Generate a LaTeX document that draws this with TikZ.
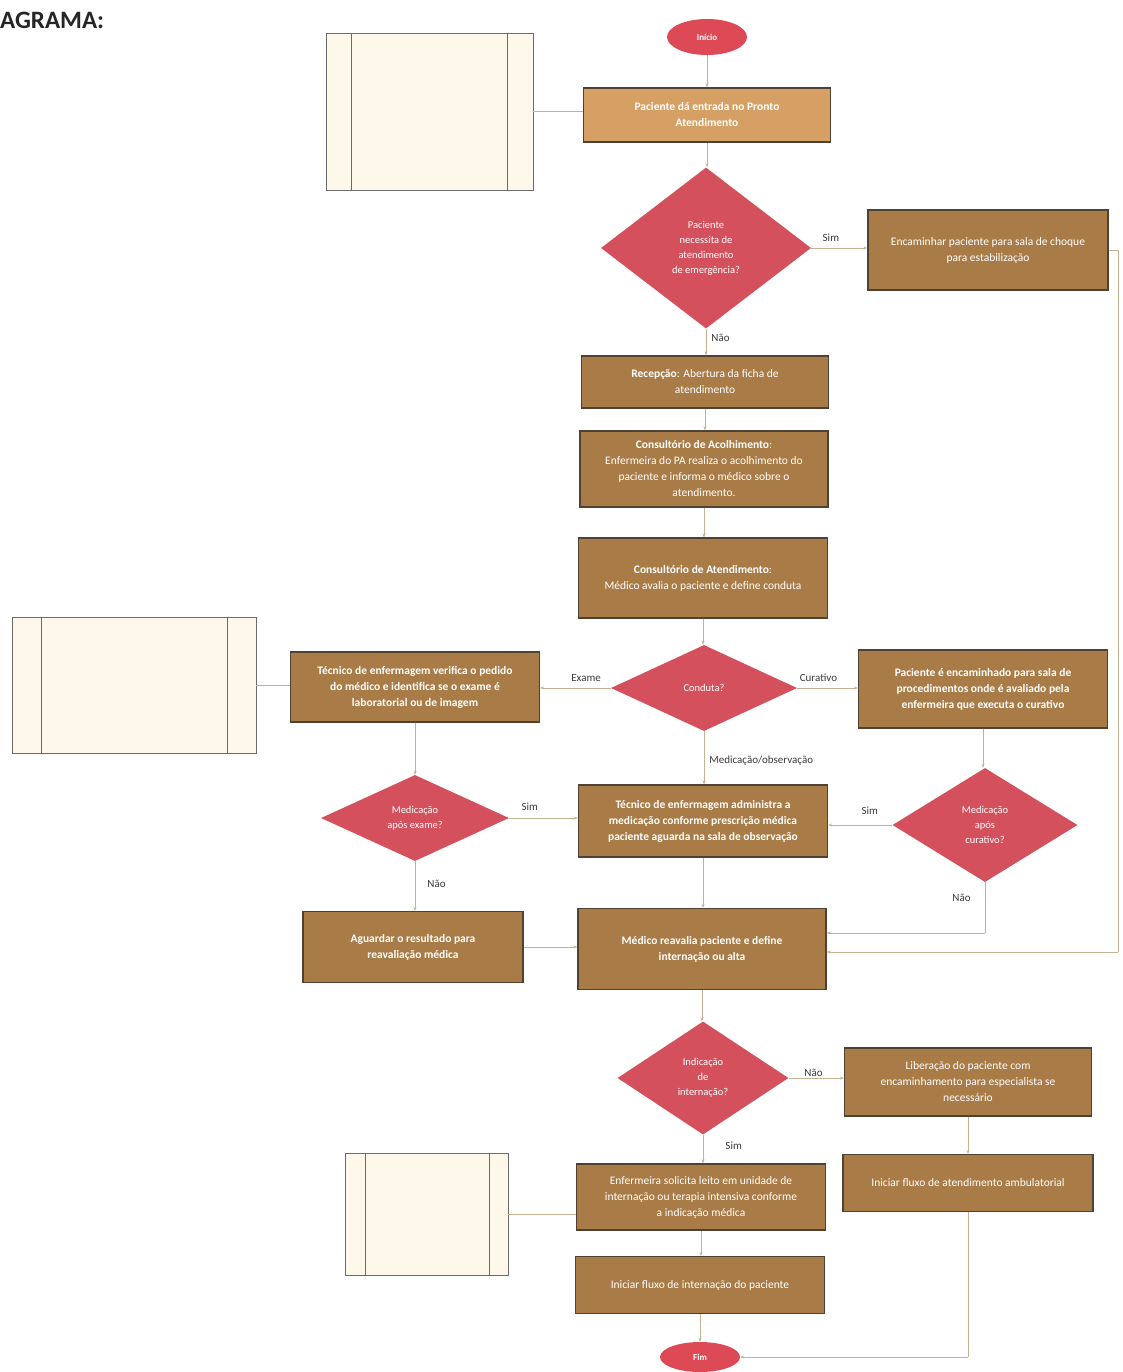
\documentclass[tikz,border=0pt]{standalone}
\usepackage{fontspec}
\setmainfont{Carlito}
\usetikzlibrary{shapes.geometric,arrows.meta,calc}

\definecolor{boxbrown}{HTML}{A97B47}
\definecolor{boxtan}{HTML}{D6A064}
\definecolor{boxedge}{HTML}{4F4234}
\definecolor{decred}{HTML}{D4505C}
\definecolor{termred}{HTML}{DD4A56}
\definecolor{docfill}{HTML}{FDF8E9}
\definecolor{docedge}{HTML}{6A6A6A}
\definecolor{wire}{HTML}{C4B292}
\definecolor{lbltext}{HTML}{3A3A3A}

\tikzset{
  proc/.style={rectangle, fill=boxbrown, draw=boxedge, line width=1.2pt,
    text=white, font=\fontsize{11.5}{16}\selectfont, align=center, inner sep=2pt},
  procb/.style={proc, font=\fontsize{11.5}{16}\selectfont\bfseries},
  proclight/.style={proc, fill=boxtan, font=\fontsize{11.5}{16}\selectfont\bfseries},
  dec/.style={diamond, aspect=2, fill=decred, draw=none, inner sep=0pt,
    text=white, font=\fontsize{10.5}{15}\selectfont, align=center},
  term/.style={ellipse, fill=termred, draw=none, text=white,
    font=\fontsize{9}{10}\selectfont\bfseries, inner sep=0pt},
  docbox/.style={rectangle, fill=docfill, draw=docedge, line width=0.9pt},
  docline/.style={draw=docedge, line width=0.9pt},
  conn/.style={draw=wire, line width=0.9pt},
  arr/.style={conn, -{Stealth[length=4pt,width=3pt]}},
  lbl/.style={text=lbltext, font=\fontsize{11}{12}\selectfont, inner sep=0pt}
}

\begin{document}
\begin{tikzpicture}[x=1pt,y=-1pt]
  % page frame
  \path[fill=white] (0,0) rectangle (1123,1372);
  \useasboundingbox (0,0) rectangle (1123,1372);

  % heading
  \node[anchor=west, inner sep=0pt, text=black!85, font=\fontsize{25}{28}\selectfont\bfseries] (title) at (0,20) {AGRAMA:};

  % side documents
  \node[docbox, minimum width=207pt, minimum height=157pt] (doc1) at (429.5,111.5) {};
  \draw[docline] ($(doc1.north west)+(26,0)$) -- ($(doc1.south west)+(26,0)$);
  \draw[docline] ($(doc1.north east)+(-26,0)$) -- ($(doc1.south east)+(-26,0)$);

  \node[docbox, minimum width=244pt, minimum height=136pt] (doc2) at (134,685) {};
  \draw[docline] ($(doc2.north west)+(30,0)$) -- ($(doc2.south west)+(30,0)$);
  \draw[docline] ($(doc2.north east)+(-29,0)$) -- ($(doc2.south east)+(-29,0)$);

  \node[docbox, minimum width=163pt, minimum height=122pt] (doc3) at (426.5,1214) {};
  \draw[docline] ($(doc3.north west)+(21,0)$) -- ($(doc3.south west)+(21,0)$);
  \draw[docline] ($(doc3.north east)+(-19,0)$) -- ($(doc3.south east)+(-19,0)$);

  % main column
  \node[term, minimum width=80pt, minimum height=36pt] (ini) at (707,37) {Início};
  \node[proclight, minimum width=247pt, minimum height=54pt] (ent) at (707,115)
    {Paciente dá entrada no Pronto\\Atendimento};
  \node[dec, minimum width=210pt, minimum height=161pt] (emg) at (706,248)
    {Paciente\\necessita de\\atendimento\\de emergência?};
  \node[proc, minimum width=240pt, minimum height=80pt] (enc) at (988,250)
    {Encaminhar paciente para sala de choque\\para estabilização};
  \node[proc, minimum width=247pt, minimum height=52pt] (rec) at (705,382)
    {\textbf{Recepção}: Abertura da ficha de\\atendimento};
  \node[proc, minimum width=248pt, minimum height=76pt] (aco) at (704,469)
    {\textbf{Consultório de Acolhimento}:\\Enfermeira do PA realiza o acolhimento do\\paciente e informa o médico sobre o\\atendimento.};
  \node[proc, minimum width=249pt, minimum height=80pt] (ate) at (703,578)
    {\textbf{Consultório de Atendimento}:\\Médico avalia o paciente e define conduta};
  \node[dec, minimum width=186pt, minimum height=86pt] (cond) at (704,688) {Conduta?};

  % exam branch
  \node[procb, minimum width=249pt, minimum height=70pt] (tve) at (415,687)
    {Técnico de enfermagem verifica o pedido\\do médico e identifica se o exame é\\laboratorial ou de imagem};
  \node[dec, minimum width=188pt, minimum height=86pt] (mex) at (415,818)
    {Medicação\\após exame?};
  \node[procb, minimum width=220pt, minimum height=71pt] (agu) at (413,947)
    {Aguardar o resultado para\\reavaliação médica};

  % dressing branch
  \node[procb, minimum width=249pt, minimum height=78pt] (cur) at (983,689)
    {Paciente é encaminhado para sala de\\procedimentos onde é avaliado pela\\enfermeira que executa o curativo};
  \node[dec, minimum width=185pt, minimum height=114pt] (mcu) at (985,825)
    {Medicação\\após\\curativo?};

  % medication / reassessment
  \node[procb, minimum width=249pt, minimum height=72pt] (adm) at (703,821)
    {Técnico de enfermagem administra a\\medicação conforme prescrição médica\\paciente aguarda na sala de observação};
  \node[procb, minimum width=248pt, minimum height=81pt] (med) at (702,949)
    {Médico reavalia paciente e define\\internação ou alta};
  \node[dec, minimum width=171pt, minimum height=113pt] (ind) at (703,1078)
    {Indicação\\de\\internação?};

  % discharge branch
  \node[proc, minimum width=247pt, minimum height=68pt] (lib) at (968,1082)
    {Liberação do paciente com\\encaminhamento para especialista se\\necessário};
  \node[proc, minimum width=250pt, minimum height=57pt] (amb) at (968,1183)
    {Iniciar fluxo de atendimento ambulatorial};

  % admission branch
  \node[proc, minimum width=249pt, minimum height=66pt] (enf) at (701,1197)
    {Enfermeira solicita leito em unidade de\\internação ou terapia intensiva conforme\\a indicação médica};
  \node[proc, minimum width=249pt, minimum height=57pt] (int) at (700,1285)
    {Iniciar fluxo de internação do paciente};
  \node[term, minimum width=80pt, minimum height=30pt] (fim) at (700,1357) {Fim};

  % helper points
  \coordinate (rtop) at (1118,250);
  \coordinate (rbot) at (1118,952);
  \coordinate (nbend) at (985,933);
  \coordinate (abend) at (968,1357);

  % connectors
  \draw[arr] (ini.south) -- (ini.south |- ent.north);
  \draw[arr] (ent.south) -- (ent.south |- emg.north);
  \draw[arr] (emg.east) -- (emg.east -| enc.west) node[lbl, pos=0.35, above=6pt] {Sim};
  \draw[arr] (emg.south) -- (emg.south |- rec.north) node[lbl, pos=0.35, right=5pt] {Não};
  \draw[arr] (rec.south) -- (rec.south |- aco.north);
  \draw[arr] (aco.south) -- (aco.south |- ate.north);
  \draw[arr] (ate.south) -- (ate.south |- cond.north);
  \draw[arr] (cond.west) -- (cond.west -| tve.east) node[lbl, pos=0.35, above=6pt] {Exame};
  \draw[arr] (cond.east) -- (cond.east -| cur.west) node[lbl, pos=0.35, above=6pt] {Curativo};
  \draw[arr] (cond.south) -- (cond.south |- adm.north) node[lbl, pos=0.55, anchor=west, xshift=5pt] {Medicação/observação};
  \draw[arr] (tve.south) -- (tve.south |- mex.north);
  \draw[arr] (mex.east) -- (mex.east -| adm.west) node[lbl, pos=0.3, above=7pt] {Sim};
  \draw[arr] (mex.south) -- (mex.south |- agu.north) node[lbl, pos=0.45, right=12pt] {Não};
  \draw[arr] (cur.south) -- (cur.south |- mcu.north);
  \draw[arr] (mcu.west) -- (mcu.west -| adm.east) node[lbl, pos=0.35, above=10pt] {Sim};
  \draw[conn] (mcu.south) -- (nbend) node[lbl, pos=0.3, left=14pt] {Não};
  \draw[arr] (nbend) -- (nbend -| med.east);
  \draw[arr] (agu.east) -- (agu.east -| med.west);
  \draw[arr] (adm.south) -- (adm.south |- med.north);
  \draw[conn] (enc.east) -- (rtop) -- (rbot);
  \draw[arr] (rbot) -- (rbot -| med.east);
  \draw[arr] (med.south) -- (med.south |- ind.north);
  \draw[arr] (ind.east) -- (ind.east -| lib.west) node[lbl, pos=0.45, above=1pt] {Não};
  \draw[arr] (ind.south) -- (ind.south |- enf.north) node[lbl, pos=0.4, right=22pt] {Sim};
  \draw[arr] (lib.south) -- (lib.south |- amb.north);
  \draw[arr] (enf.south) -- (enf.south |- int.north);
  \draw[arr] (int.south) -- (int.south |- fim.north);
  \draw[conn] (amb.south) -- (abend);
  \draw[arr] (abend) -- (fim.east);

  % document links
  \draw[conn] (doc1.east) -- (doc1.east -| ent.west);
  \draw[conn] (doc2.east) -- (doc2.east -| tve.west);
  \draw[conn] (doc3.east) -- (doc3.east -| enf.west);
\end{tikzpicture}
\end{document}
